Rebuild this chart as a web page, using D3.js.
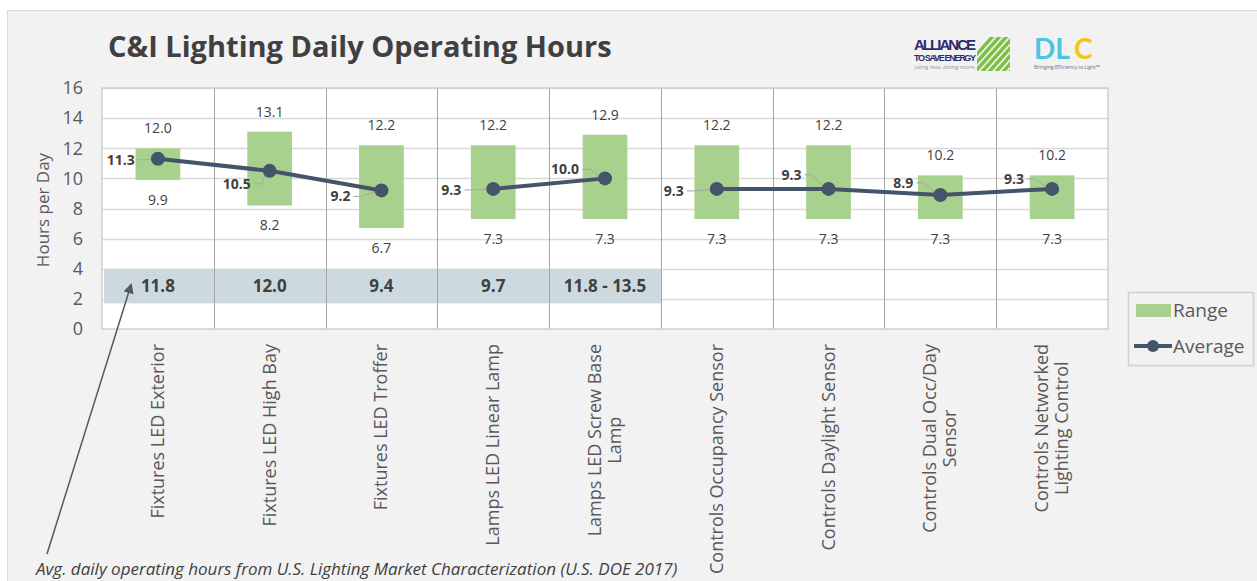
<!DOCTYPE html>
<html lang="en">
<head>
  <meta charset="UTF-8">
  <title>C&amp;I Lighting Daily Operating Hours</title>
  <style>
    body { margin: 0; background: #fff; }
    svg { display: block; font-family: "Open Sans", "Noto Sans", sans-serif; }
    .tick text { fill: #595959; font-size: 18px; font-family: "Open Sans", sans-serif; }
    .lbl { fill: #404040; font-size: 14px; }
    .avg { fill: #404040; font-size: 14px; font-weight: bold; }
    .doe { fill: #404040; font-size: 17px; font-weight: bold; }
  </style>
</head>
<body>
  <svg width="1257" height="581"></svg>

  <script src="https://d3js.org/d3.v7.min.js"></script>
  <script>
    const categories = [
      ["Fixtures LED Exterior"],
      ["Fixtures LED High Bay"],
      ["Fixtures LED Troffer"],
      ["Lamps LED Linear Lamp"],
      ["Lamps LED Screw Base", "Lamp"],
      ["Controls Occupancy Sensor"],
      ["Controls Daylight Sensor"],
      ["Controls Dual Occ/Day", "Sensor"],
      ["Controls Networked", "Lighting Control"]
    ];
    const groups    = ["Fixtures", "Fixtures", "Fixtures", "Lamps", "Lamps",
                       "Controls", "Controls", "Controls", "Controls"];
    const rangeLow  = [9.9, 8.2, 6.7, 7.3, 7.3, 7.3, 7.3, 7.3, 7.3];
    const rangeHigh = [12.0, 13.1, 12.2, 12.2, 12.9, 12.2, 12.2, 10.2, 10.2];
    const average   = [11.3, 10.5, 9.2, 9.3, 10.0, 9.3, 9.3, 8.9, 9.3];
    const doeHours  = ["11.8", "12.0", "9.4", "9.7", "11.8 - 13.5"];
    const doeBand   = [1.7, 4.0];
    const yTicks    = [0, 2, 4, 6, 8, 10, 12, 14, 16];

    // where each average label sits relative to its point (dx, dy)
    const avgLabelPos = [[-38, 1], [-34, 13], [-46, 6], [-47, 1], [-41, -9],
                         [-48, 2], [-42, -14], [-42, -12], [-43, -10]];

    const svg = d3.select("svg");
    const keys = categories.map((c, i) => i);

    // chart area
    svg.append("rect").attr("x", 7.5).attr("y", 10.5).attr("width", 1260).attr("height", 580)
      .attr("fill", "#f2f2f2").attr("stroke", "#d9d9d9");

    const x = d3.scaleBand().domain(keys).range([102, 1108]).padding(0);
    const y = d3.scaleLinear().domain([0, 16]).range([329, 88]);
    const cx = i => x(i) + x.bandwidth() / 2;

    // plot background
    svg.append("rect").attr("x", 102).attr("y", y(16)).attr("width", 1006).attr("height", y(0) - y(16))
      .attr("fill", "#fff");

    // horizontal gridlines
    svg.append("g").selectAll("line").data(yTicks.slice(1)).join("line")
      .attr("x1", 102).attr("x2", 1108)
      .attr("y1", d => Math.round(y(d)) + 0.5).attr("y2", d => Math.round(y(d)) + 0.5)
      .attr("stroke", "#d9d9d9").attr("stroke-width", 1.5);

    // DOE reference band
    svg.append("rect")
      .attr("x", 104).attr("width", x(4) + x.bandwidth() - 104)
      .attr("y", y(doeBand[1])).attr("height", y(doeBand[0]) - y(doeBand[1]))
      .attr("fill", "#ccd9df");

    // category dividers
    svg.append("g").selectAll("line").data(keys.slice(1)).join("line")
      .attr("x1", d => Math.round(x(d)) + 0.5).attr("x2", d => Math.round(x(d)) + 0.5)
      .attr("y1", y(16)).attr("y2", y(0))
      .attr("stroke", "#a6a6a6").attr("stroke-width", 1);

    // plot border
    svg.append("rect").attr("x", 102).attr("y", y(16)).attr("width", 1006).attr("height", y(0) - y(16))
      .attr("fill", "none").attr("stroke", "#d0d0d0").attr("stroke-width", 1.5);

    // DOE labels
    svg.append("g").selectAll("text").data(doeHours).join("text")
      .attr("class", "doe")
      .attr("x", (d, i) => cx(i))
      .attr("y", y(2.85)).attr("dy", "0.35em")
      .attr("text-anchor", "middle")
      .text(d => d);

    // range bars
    const barW = x.bandwidth() * 0.4;
    svg.append("g").selectAll("rect").data(keys).join("rect")
      .attr("x", i => x(i) + (x.bandwidth() - barW) / 2)
      .attr("width", barW)
      .attr("y", i => y(rangeHigh[i]))
      .attr("height", i => y(rangeLow[i]) - y(rangeHigh[i]))
      .attr("fill", "#a9d18e");

    // range labels
    svg.append("g").selectAll("text").data(keys).join("text")
      .attr("class", "lbl").attr("text-anchor", "middle")
      .attr("x", cx)
      .attr("y", i => y(rangeHigh[i]) - 20).attr("dy", "0.35em")
      .text(i => rangeHigh[i].toFixed(1));
    svg.append("g").selectAll("text").data(keys).join("text")
      .attr("class", "lbl").attr("text-anchor", "middle")
      .attr("x", cx)
      .attr("y", i => y(rangeLow[i]) + 20).attr("dy", "0.35em")
      .text(i => rangeLow[i].toFixed(1));

    // average leader lines
    svg.append("g").selectAll("path").data(keys).join("path")
      .attr("fill", "none").attr("stroke", "#a6a6a6").attr("stroke-width", 1)
      .attr("d", i => {
        const px = cx(i), py = y(average[i]);
        const lx = px + avgLabelPos[i][0] + 18, ly = py + avgLabelPos[i][1];
        return `M${lx},${ly}H${lx + 8}L${px - 3},${py}`;
      });

    // average line, broken between product groups
    const byGroup = d3.groups(keys, i => groups[i]);
    svg.append("g").selectAll("path").data(byGroup).join("path")
      .attr("fill", "none").attr("stroke", "#44546a").attr("stroke-width", 4)
      .attr("d", g => d3.line().x(i => cx(i)).y(i => y(average[i]))(g[1]));
    svg.append("g").selectAll("circle").data(keys).join("circle")
      .attr("cx", cx).attr("cy", i => y(average[i])).attr("r", 7)
      .attr("fill", "#44546a");

    svg.append("g").selectAll("text").data(keys).join("text")
      .attr("class", "avg").attr("text-anchor", "end")
      .attr("x", i => cx(i) + avgLabelPos[i][0] + 15)
      .attr("y", i => y(average[i]) + avgLabelPos[i][1]).attr("dy", "0.35em")
      .text(i => average[i].toFixed(1));

    // y axis
    const yAxis = svg.append("g").attr("transform", "translate(83,0)")
      .call(d3.axisLeft(y).tickValues(yTicks).tickSize(0).tickPadding(0));
    yAxis.select(".domain").remove();

    svg.append("text")
      .attr("transform", "translate(49,210) rotate(-90)")
      .attr("text-anchor", "middle").attr("fill", "#595959").attr("font-size", 17)
      .text("Hours per Day");

    // category labels (rotated, wrapped lines centred on each other)
    const catSize = 18;
    const catG = svg.append("g").selectAll("text").data(keys).join("text")
      .attr("fill", "#595959").attr("font-size", catSize).attr("text-anchor", "middle");
    catG.each(function (i) {
      const t = d3.select(this);
      const lines = categories[i];
      lines.forEach((ln, j) => t.append("tspan").attr("x", 0)
        .attr("dy", j === 0 ? 0 : "1.1em").text(ln));
      let maxW = 0;
      t.selectAll("tspan").each(function () { maxW = Math.max(maxW, this.getComputedTextLength()); });
      const shift = (lines.length - 1) * 0.55 * catSize;
      t.attr("transform", `translate(${cx(i) + 6 - shift},${344 + maxW / 2}) rotate(-90)`);
    });

    // legend
    const lg = svg.append("g").attr("transform", "translate(1128,292)");
    lg.append("rect").attr("x", 0.5).attr("y", 0.5).attr("width", 125).attr("height", 73)
      .attr("fill", "none").attr("stroke", "#d0d0d0").attr("stroke-width", 1.5);
    lg.append("rect").attr("x", 8).attr("y", 12).attr("width", 35).attr("height", 13).attr("fill", "#a9d18e");
    lg.append("text").attr("x", 45).attr("y", 18).attr("dy", "0.35em")
      .attr("fill", "#595959").attr("font-size", 19).text("Range");
    lg.append("line").attr("x1", 6).attr("x2", 44).attr("y1", 54).attr("y2", 54)
      .attr("stroke", "#44546a").attr("stroke-width", 4);
    lg.append("circle").attr("cx", 25).attr("cy", 54).attr("r", 6).attr("fill", "#44546a");
    lg.append("text").attr("x", 45).attr("y", 54).attr("dy", "0.35em")
      .attr("fill", "#595959").attr("font-size", 19).text("Average");

    // title
    svg.append("text").attr("x", 108).attr("y", 57)
      .attr("fill", "#404040").attr("font-size", 29).attr("font-weight", "bold")
      .text("C&I Lighting Daily Operating Hours");

    // logos (approximated)
    const al = svg.append("g").attr("transform", "translate(914,37)");
    al.append("text").attr("y", 13).attr("font-size", 15).attr("font-weight", "bold")
      .attr("font-family", "'Liberation Sans Narrow', sans-serif").attr("fill", "#2f2a6b")
      .attr("textLength", 62).text("ALLIANCE");
    al.append("text").attr("y", 24).attr("font-size", 9).attr("font-weight", "bold")
      .attr("font-family", "'Liberation Sans Narrow', sans-serif").attr("fill", "#2f2a6b")
      .attr("textLength", 62).text("TO SAVE ENERGY");
    al.append("text").attr("y", 32).attr("font-size", 6).attr("fill", "#9a9a9a")
      .attr("textLength", 62).text("using less. doing more.");
    al.append("clipPath").attr("id", "alc").append("rect").attr("x", 63).attr("y", 0).attr("width", 33).attr("height", 34);
    al.append("g").attr("clip-path", "url(#alc)").selectAll("line").data(d3.range(-2, 7)).join("line")
      .attr("x1", k => 60 + k * 7).attr("y1", 36).attr("x2", k => 60 + k * 7 + 34).attr("y2", -2)
      .attr("stroke", "#7dc142").attr("stroke-width", 3.5);

    const dlc = svg.append("g").attr("transform", "translate(1034,37)");
    dlc.append("text").attr("y", 22).attr("font-size", 28).attr("font-weight", "bold")
      .attr("font-family", "Lato, sans-serif").attr("fill", "#4fc3e3").text("DL");
    dlc.append("text").attr("x", 40).attr("y", 22).attr("font-size", 28).attr("font-weight", "bold")
      .attr("font-family", "Lato, sans-serif").attr("fill", "#f6c415").text("C");
    dlc.append("text").attr("y", 32).attr("font-size", 5.5).attr("fill", "#777")
      .attr("textLength", 66).text("Bringing Efficiency to Light\u2122");

    // annotation with arrow
    svg.append("defs").append("marker").attr("id", "ah").attr("viewBox", "0 0 10 10")
      .attr("refX", 8).attr("refY", 5).attr("markerWidth", 7).attr("markerHeight", 7)
      .attr("orient", "auto").append("path").attr("d", "M0,0L10,5L0,10z").attr("fill", "#595959");
    svg.append("line").attr("x1", 47).attr("y1", 554).attr("x2", 131).attr("y2", 285)
      .attr("stroke", "#595959").attr("stroke-width", 1.5).attr("marker-end", "url(#ah)");
    svg.append("text").attr("x", 36).attr("y", 575)
      .attr("fill", "#404040").attr("font-size", 17).attr("font-style", "italic")
      .text("Avg. daily operating hours from U.S. Lighting Market Characterization (U.S. DOE 2017)");
  </script>
</body>
</html>
